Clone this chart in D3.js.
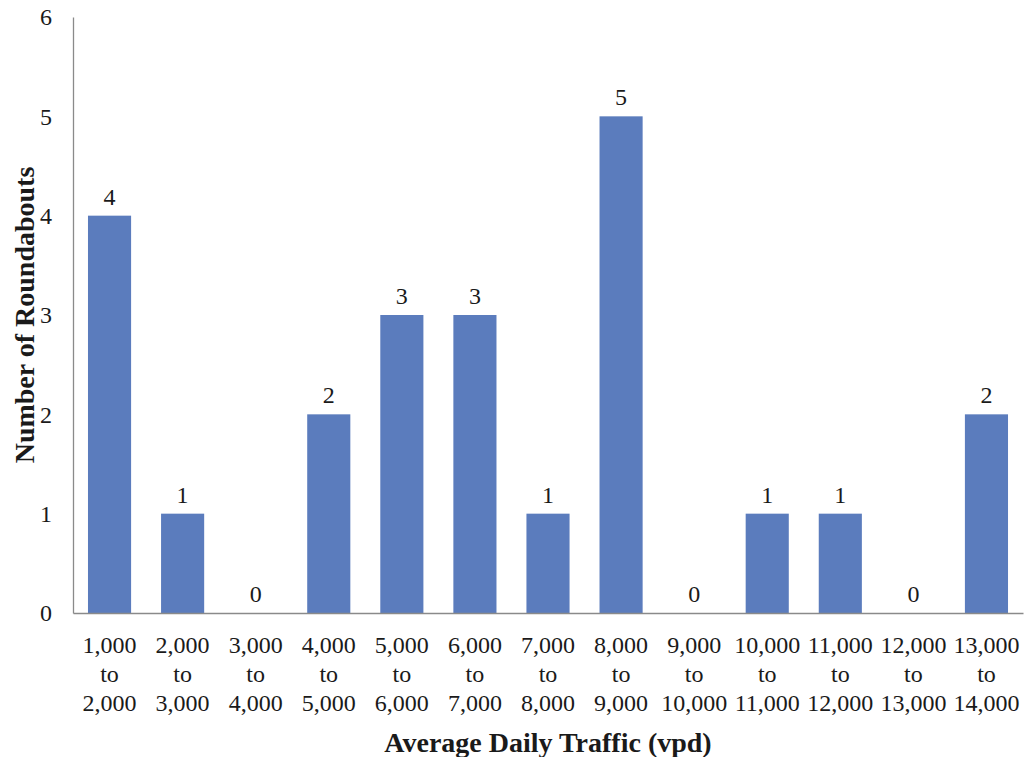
<!DOCTYPE html>
<html>
<head>
<meta charset="utf-8">
<script src="https://cdn.jsdelivr.net/npm/d3@7"></script>
<style>
  html, body { margin: 0; padding: 0; background: #fff; }
  svg text { font-family: "Liberation Serif", "Times New Roman", serif; fill: #1a1a1a; }
</style>
</head>
<body>
<svg id="chart" width="1026" height="757"></svg>
<script>
// Roundabout counts by average daily traffic range
const rangeStarts = ["1,000", "2,000", "3,000", "4,000", "5,000", "6,000", "7,000",
                     "8,000", "9,000", "10,000", "11,000", "12,000", "13,000"];
const rangeEnds = ["2,000", "3,000", "4,000", "5,000", "6,000", "7,000", "8,000",
                   "9,000", "10,000", "11,000", "12,000", "13,000", "14,000"];
const counts = [4, 1, 0, 2, 3, 3, 1, 5, 0, 1, 1, 0, 2];
const yTicks = [0, 1, 2, 3, 4, 5, 6];

const categories = rangeStarts.map((s, i) => s + " to " + rangeEnds[i]);

const svg = d3.select("#chart");
const margin = { left: 73, right: 3, top: 17, bottom: 144 };
const width = 1026, height = 757;
const fontSize = 24;

const x = d3.scaleBand()
  .domain(categories)
  .range([margin.left, width - margin.right])
  .paddingInner(0.41)
  .paddingOuter(0.205);

const y = d3.scaleLinear()
  .domain([0, 6])
  .range([height - margin.bottom, margin.top]);

// Bars
svg.append("g").selectAll("rect")
  .data(counts)
  .join("rect")
  .attr("x", (d, i) => x(categories[i]))
  .attr("y", d => y(d))
  .attr("width", x.bandwidth())
  .attr("height", d => y(0) - y(d))
  .attr("fill", "#5b7cbd");

// Value labels
svg.append("g").selectAll("text")
  .data(counts)
  .join("text")
  .attr("x", (d, i) => x(categories[i]) + x.bandwidth() / 2)
  .attr("y", d => y(d) - 11)
  .attr("text-anchor", "middle")
  .attr("font-size", fontSize)
  .text(d => d);

// Y axis (line + labels, no ticks)
const yAxis = svg.append("g")
  .attr("transform", `translate(${margin.left},0)`)
  .call(d3.axisLeft(y).tickValues(yTicks).tickFormat(d3.format("d")).tickSize(0).tickPadding(21));
yAxis.select(".domain").attr("stroke", "#8a8a8a").attr("stroke-width", 1.3);
yAxis.selectAll("text")
  .attr("font-size", fontSize)
  .attr("font-family", "Liberation Serif, serif")
  .attr("fill", "#1a1a1a");

// X axis baseline
const xAxis = svg.append("g")
  .attr("transform", `translate(0,${y(0)})`)
  .call(d3.axisBottom(x).tickSize(0).tickFormat(""));
xAxis.select(".domain").attr("stroke", "#8a8a8a").attr("stroke-width", 1.3);

// Three-line category labels
const labelGroup = svg.append("g");
categories.forEach((c, i) => {
  const cx = x(c) + x.bandwidth() / 2;
  const t = labelGroup.append("text")
    .attr("x", cx)
    .attr("y", y(0) + 40)
    .attr("text-anchor", "middle")
    .attr("font-size", fontSize);
  [rangeStarts[i], "to", rangeEnds[i]].forEach((line, k) => {
    t.append("tspan")
      .attr("x", cx)
      .attr("dy", k === 0 ? 0 : 29)
      .text(line);
  });
});

// Axis titles
svg.append("text")
  .attr("x", 548)
  .attr("y", 752)
  .attr("text-anchor", "middle")
  .attr("font-size", 28)
  .attr("font-weight", "bold")
  .text("Average Daily Traffic (vpd)");

svg.append("text")
  .attr("transform", `translate(34,315) rotate(-90)`)
  .attr("text-anchor", "middle")
  .attr("font-size", 28)
  .attr("font-weight", "bold")
  .text("Number of Roundabouts");
</script>
</body>
</html>
